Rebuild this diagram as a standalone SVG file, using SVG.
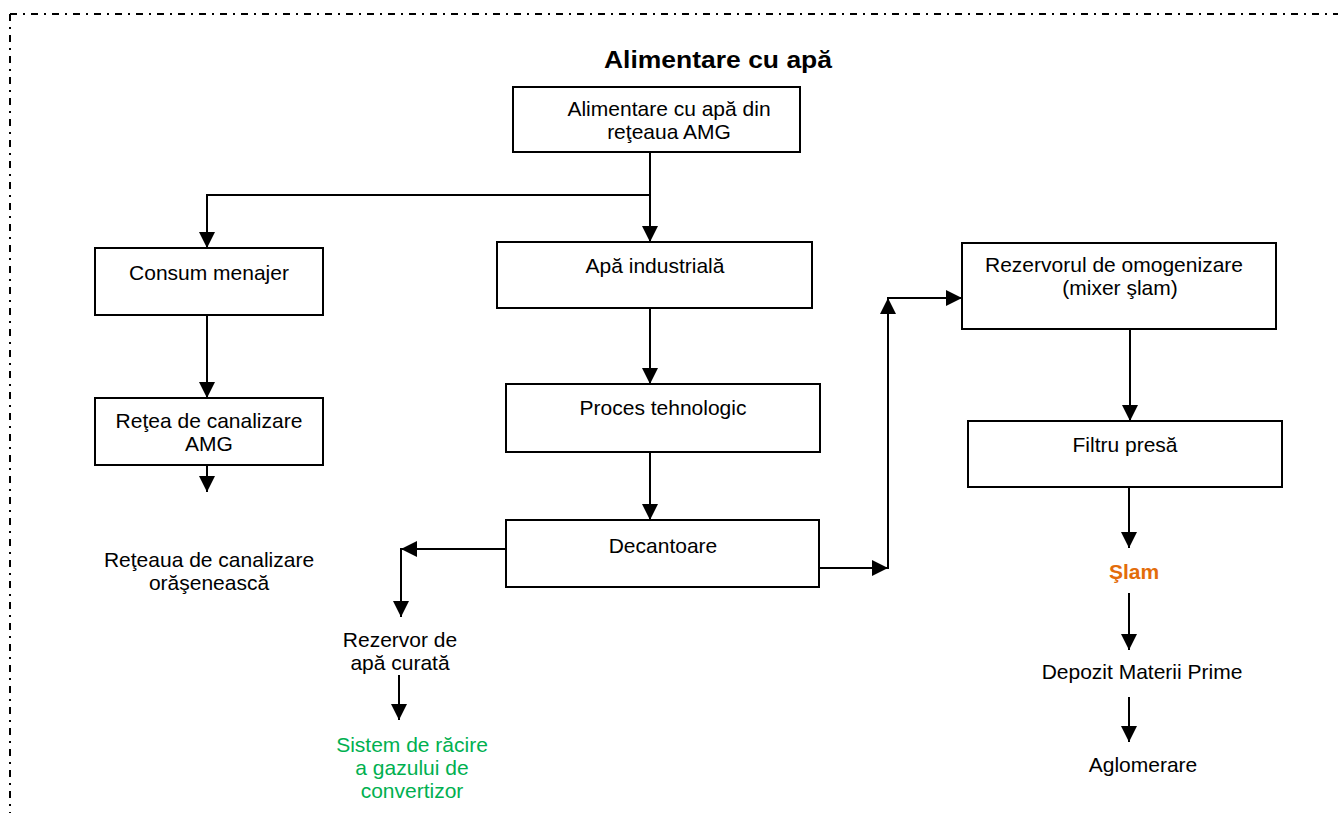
<svg xmlns="http://www.w3.org/2000/svg" width="1338" height="813" viewBox="0 0 1338 813">
  <style>
    .box { fill: #ffffff; stroke: #000000; stroke-width: 2; }
    .t { font-family: "Liberation Sans", Arial, sans-serif; font-size: 21px; fill: #000000; text-anchor: middle; }
    .title { font-weight: bold; font-size: 23px; }
    .green { fill: #00B050; }
    .orange { fill: #E36C0A; font-weight: bold; }
    .wire { fill: none; stroke: #000000; stroke-width: 2; }
    .frame { fill: none; stroke: #000000; stroke-width: 2; stroke-dasharray: 7 6 2 6; }
  </style>
  <defs>
    <marker id="arrow" markerUnits="userSpaceOnUse" viewBox="0 0 16 16" refX="16" refY="8" markerWidth="16" markerHeight="16" orient="auto">
      <path d="M0,0 L16,8 L0,16 Z" fill="#000000"/>
    </marker>
  </defs>

  <rect width="1338" height="813" fill="#ffffff"/>

  <!-- dash-dot page frame -->
  <g id="frame">
    <line class="frame" x1="10" y1="14" x2="1338" y2="14"/>
    <line class="frame" x1="10" y1="14" x2="10" y2="813"/>
  </g>

  <g id="title">
    <text class="t title" x="718" y="68" textLength="228" lengthAdjust="spacingAndGlyphs">Alimentare cu apă</text>
  </g>

  <!-- connectors -->
  <g id="connectors">
    <path class="wire" d="M650,152 V195 H207 V248" marker-end="url(#arrow)"/>
    <path class="wire" d="M650,195 V242" marker-end="url(#arrow)"/>
    <path class="wire" d="M207,315 V398" marker-end="url(#arrow)"/>
    <path class="wire" d="M207,465 V492" marker-end="url(#arrow)"/>
    <path class="wire" d="M650,308 V384" marker-end="url(#arrow)"/>
    <path class="wire" d="M650,452 V520" marker-end="url(#arrow)"/>
    <path class="wire" d="M506,549 H401" marker-end="url(#arrow)"/>
    <path class="wire" d="M401,548 V617" marker-end="url(#arrow)"/>
    <path class="wire" d="M399,675 V720" marker-end="url(#arrow)"/>
    <path class="wire" d="M819,568 H888" marker-end="url(#arrow)"/>
    <path class="wire" d="M888,569 V298" marker-end="url(#arrow)"/>
    <path class="wire" d="M887,298 H962" marker-end="url(#arrow)"/>
    <path class="wire" d="M1130,329 V421" marker-end="url(#arrow)"/>
    <path class="wire" d="M1129,487 V548" marker-end="url(#arrow)"/>
    <path class="wire" d="M1129,593 V650" marker-end="url(#arrow)"/>
    <path class="wire" d="M1129,697 V742" marker-end="url(#arrow)"/>
  </g>

  <g id="alimentare-amg">
    <rect class="box" x="513" y="87" width="287" height="65"/>
    <text class="t" x="669" y="116">Alimentare cu apă din</text>
    <text class="t" x="669" y="139">reţeaua AMG</text>
  </g>

  <g id="consum-menajer">
    <rect class="box" x="95" y="248" width="228" height="67"/>
    <text class="t" x="209" y="280">Consum menajer</text>
  </g>

  <g id="retea-canalizare">
    <rect class="box" x="95" y="398" width="228" height="67"/>
    <text class="t" x="209" y="428">Reţea de canalizare</text>
    <text class="t" x="209" y="451">AMG</text>
  </g>

  <g id="retea-oraseneasca">
    <text class="t" x="209" y="567">Reţeaua de canalizare</text>
    <text class="t" x="209" y="590">orăşenească</text>
  </g>

  <g id="apa-industriala">
    <rect class="box" x="497" y="242" width="315" height="66"/>
    <text class="t" x="655" y="273">Apă industrială</text>
  </g>

  <g id="proces-tehnologic">
    <rect class="box" x="506" y="384" width="314" height="68"/>
    <text class="t" x="663" y="415">Proces tehnologic</text>
  </g>

  <g id="decantoare">
    <rect class="box" x="506" y="520" width="313" height="67"/>
    <text class="t" x="663" y="553">Decantoare</text>
  </g>

  <g id="rezervor-apa-curata">
    <text class="t" x="400" y="647">Rezervor de</text>
    <text class="t" x="400" y="670">apă curată</text>
  </g>

  <g id="sistem-racire">
    <text class="t green" x="412" y="752">Sistem de răcire</text>
    <text class="t green" x="412" y="775">a gazului de</text>
    <text class="t green" x="412" y="798">convertizor</text>
  </g>

  <g id="rezervor-omogenizare">
    <rect class="box" x="962" y="243" width="314" height="86"/>
    <text class="t" x="1114" y="272">Rezervorul de omogenizare</text>
    <text class="t" x="1120" y="295">(mixer şlam)</text>
  </g>

  <g id="filtru-presa">
    <rect class="box" x="968" y="421" width="314" height="66"/>
    <text class="t" x="1125" y="452">Filtru presă</text>
  </g>

  <g id="slam">
    <text class="t orange" x="1134" y="579">Şlam</text>
  </g>

  <g id="depozit">
    <text class="t" x="1142" y="679">Depozit Materii Prime</text>
  </g>

  <g id="aglomerare">
    <text class="t" x="1143" y="772">Aglomerare</text>
  </g>
</svg>
